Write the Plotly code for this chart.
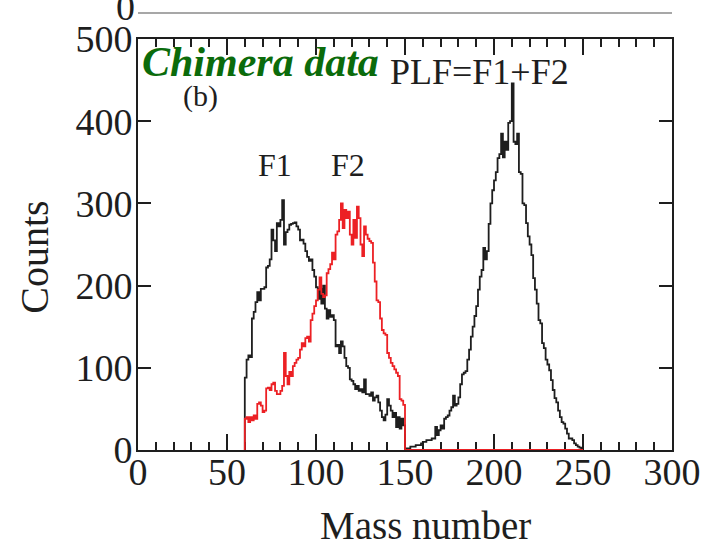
import plotly.graph_objects as go

# Mass-number bins (left edges, width 1) and counts per bin
f_mass = list(range(60, 150))
f1_counts = [
    88, 110, 115, 113, 160, 168, 180, 192, 182, 196,
    196, 198, 222, 224, 232, 268, 255, 242, 276, 272,
    280, 304, 250, 265, 268, 274, 275, 276, 277, 272,
    268, 255, 256, 251, 242, 235, 230, 232, 219, 211,
    198, 184, 196, 178, 200, 172, 160, 170, 162, 164,
    158, 126, 128, 118, 132, 126, 112, 102, 100, 86,
    84, 80, 74, 78, 72, 74, 70, 86, 68, 68,
    66, 70, 60, 64, 66, 58, 48, 40, 36, 43,
    62, 54, 48, 40, 45, 28, 40, 26, 38, 30,
]
f2_mass = list(range(60, 250))
f2_counts = [
    38, 40, 34, 40, 36, 42, 38, 56, 58, 54,
    46, 48, 75, 76, 73, 80, 82, 72, 68, 68,
    72, 78, 118, 90, 80, 95, 90, 102, 106, 110,
    112, 122, 130, 126, 136, 138, 132, 158, 166, 175,
    182, 195, 210, 190, 186, 188, 215, 220, 226, 240,
    232, 262, 266, 280, 300, 270, 292, 282, 290, 262,
    250, 280, 258, 296, 282, 250, 236, 272, 262, 257,
    254, 252, 228, 205, 182, 180, 160, 146, 142, 140,
    118, 112, 106, 102, 98, 94, 90, 62, 60, 55,
] + [0] * 100
plf_mass = list(range(150, 250))
plf_counts = [
    1, 2, 2, 4, 4, 4, 6, 6, 6, 8,
    10, 10, 12, 12, 12, 14, 14, 28, 18, 24,
    30, 26, 38, 40, 42, 48, 52, 66, 54, 56,
    64, 80, 92, 94, 96, 110, 122, 138, 150, 163,
    175, 195, 211, 219, 246, 232, 242, 275, 300, 316,
    328, 338, 355, 360, 385, 356, 375, 365, 398, 400,
    446, 375, 372, 385, 338, 336, 300, 298, 276, 260,
    250, 237, 209, 195, 178, 158, 154, 130, 124, 110,
    104, 97, 85, 73, 63, 58, 48, 40, 34, 32,
    26, 20, 14, 14, 12, 8, 6, 4, 3, 1,
]

x_ticks = [0, 50, 100, 150, 200, 250, 300]
y_ticks = [0, 100, 200, 300, 400, 500]

SERIF = "Liberation Serif"
INK = "#1e1e1e"


def step_outline(edges, counts, width=1):
    """Closed step outline of a histogram: up from zero, across the bins, down to zero."""
    xs = [edges[0]] + list(edges) + [edges[-1] + width, edges[-1] + width]
    ys = [0] + list(counts) + [counts[-1], 0]
    return xs, ys


fig = go.Figure()

for edges, counts, color in [
    (f_mass, f1_counts, INK),
    (plf_mass, plf_counts, INK),
    (f2_mass, f2_counts, "#ec2024"),
]:
    xs, ys = step_outline(edges, counts)
    fig.add_trace(go.Scatter(
        x=xs, y=ys, mode="lines",
        line=dict(color=color, width=1.8, shape="hv"),
        hoverinfo="skip", showlegend=False,
    ))

axis_common = dict(
    showgrid=False, zeroline=False,
    showline=True, linecolor=INK, linewidth=2,
    mirror="ticks", ticks="inside", tickcolor=INK, tickwidth=2,
    tickfont=dict(family=SERIF, size=38, color=INK),
    layer="below traces",
)

fig.update_xaxes(
    range=[0, 300], tickvals=x_ticks, ticklen=16, ticklabelstandoff=-13,
    minor=dict(dtick=10, ticks="inside", ticklen=8, tickcolor=INK, tickwidth=1.6),
    **axis_common,
)
fig.update_yaxes(range=[0, 500], tickvals=y_ticks, ticklen=13,
                 ticklabelstandoff=-4, **axis_common)

annotations = [
    dict(text="Mass number", x=0.539, y=-0.183, font=dict(size=39)),
    dict(text="Counts", x=-0.193, y=0.47, textangle=-90, font=dict(size=40)),
    dict(text="<b><i>Chimera data</i></b>", x=0.003, y=0.944, xanchor="left",
         font=dict(size=42, color="#0b6b0b")),
    dict(text="(b)", x=0.117, y=0.862, font=dict(size=30)),
    dict(text="PLF=F1+F2", x=0.468, y=0.92, xanchor="left", font=dict(size=36)),
    dict(text="F1", x=0.257, y=0.693, font=dict(size=32)),
    dict(text="F2", x=0.393, y=0.693, font=dict(size=32)),
    # bottom tick label of the panel stacked above
    dict(text="0", x=-0.024, y=1.078, font=dict(size=38)),
]
for a in annotations:
    a.setdefault("xanchor", "center")
    a.update(xref="paper", yref="paper", yanchor="middle", showarrow=False)
    font = dict(family=SERIF, color=INK)
    font.update(a["font"])
    a["font"] = font
fig.update_layout(annotations=annotations)

# lower edge of the panel stacked above
fig.add_shape(type="line", xref="paper", yref="paper",
              x0=0, x1=1, y0=1.063, y1=1.063,
              line=dict(color="#8a8a8a", width=1.5))

fig.update_layout(
    width=713, height=546,
    margin=dict(l=138, r=41, t=39, b=96),
    paper_bgcolor="white", plot_bgcolor="white",
    showlegend=False,
)

fig.write_html("out.html")
